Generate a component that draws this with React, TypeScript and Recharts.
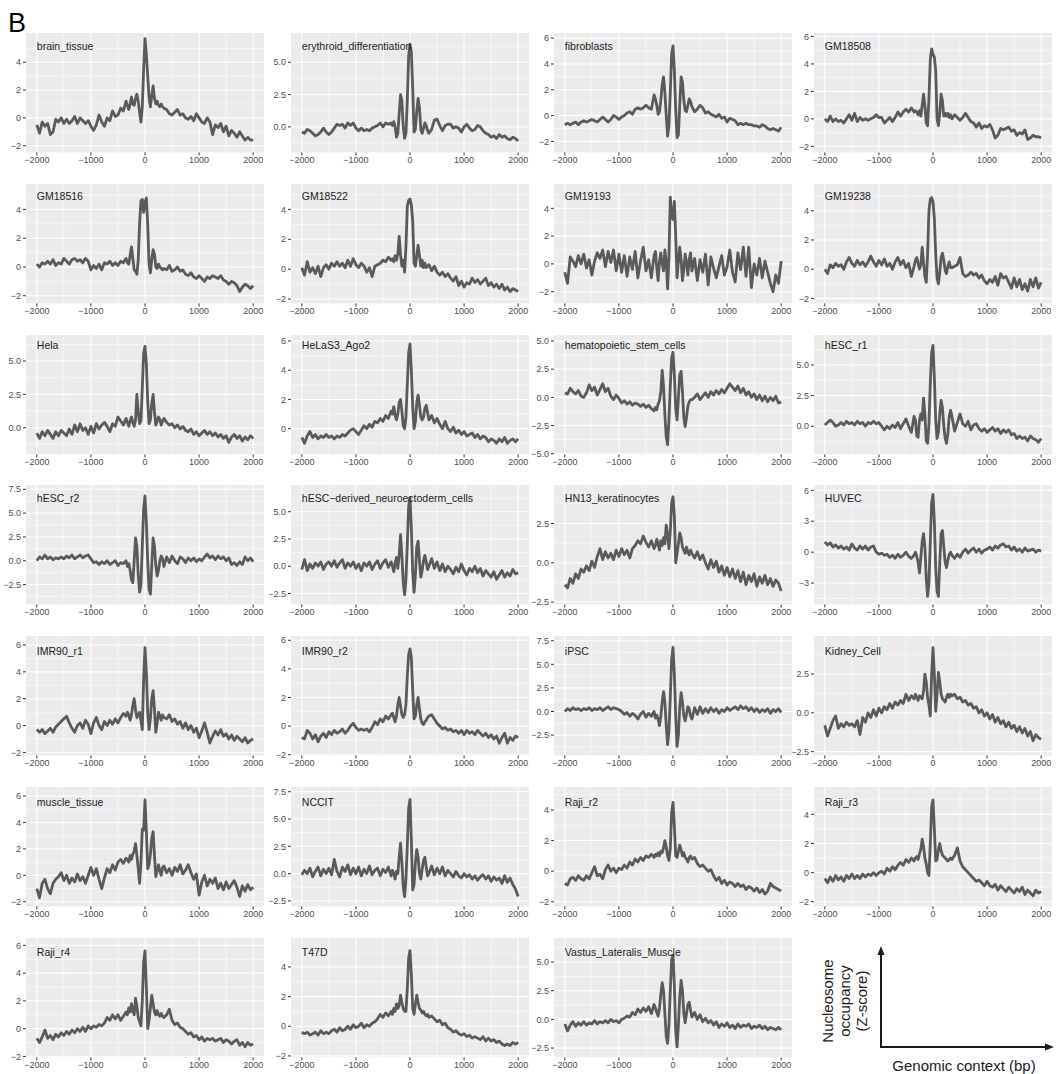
import React from 'react';
import { LineChart, Line, XAxis, YAxis, CartesianGrid } from 'recharts';

// genomic position (bp) of each sample, finer around the TSS
const positions = [
  -2000, -1950, -1900, -1850, -1800, -1750, -1700, -1650, -1600, -1550, -1500, -1450, -1400, -1350, -1300, -1250, -1200,
  -1150, -1100, -1050, -1000, -950, -900, -850, -800, -750, -700, -650, -600, -550, -500, -450, -400, -350,
  -325, -300, -275, -250, -225, -200, -175, -150, -125, -100, -75, -50, -25, 0, 25, 50, 75, 100, 125, 150, 175, 200,
  225, 250, 275, 300, 325,
  350, 400, 450, 500, 550, 600, 650, 700, 750, 800, 850, 900, 950, 1000, 1050, 1100, 1150, 1200, 1250, 1300, 1350,
  1400, 1450, 1500, 1550, 1600, 1650, 1700, 1750, 1800, 1850, 1900, 1950, 2000,
];

const xTicks = [-2000, -1000, 0, 1000, 2000];

const brainTissue = [
  -0.5, -1.1, -0.3, -0.6, -0.4, -1.2, -1.0, -0.1, -0.3, 0.0, -0.4, -0.1, -0.4, -0.2, 0.1, -0.4, 0.0, -0.2, -0.4, -0.2, -0.6, -0.9, -0.5, 0.2, -0.3, -0.6, 0.0, -0.2, 0.5, 0.1, 0.2, 0.7, 0.5, 1.2,
  0.9, 0.6, 1.0, 1.5, 1.0, 0.9, 1.4, 1.7, 1.2, 0.4, -0.3, 0.8, 3.5, 5.7, 4.6, 3.0, 1.5, 0.8, 1.6, 2.3, 1.4, 1.0, 1.2, 0.9, 0.8, 1.0, 0.8,
  0.7, 0.6, 0.3, 0.2, 0.4, 0.6, 0.2, 0.3, 0.0, -0.1, 0.1, -0.2, 0.3, 0.0, -0.3, -0.4, 0.0, -0.3, -1.2, -0.5, -0.7, -0.4, -1.0, -0.6, -1.3, -0.9, -1.1, -1.4, -1.0, -1.3, -1.6, -1.4, -1.6, -1.6,
];
const erythroid = [
  -0.4, -0.5, -0.2, -0.3, -0.5, -0.7, -0.6, -0.4, -0.1, -0.4, -0.6, -0.4, -0.1, 0.2, 0.1, 0.2, -0.1, 0.3, 0.1, 0.3, -0.1, -0.3, -0.1, -0.3, -0.2, -0.3, -0.1, 0.0, 0.1, 0.3, 0.0, 0.3, 0.2, 0.3,
  0.1, 0.4, 0.0, -0.8, -0.5, 1.0, 2.5, 2.0, 0.0, -0.9, -0.5, 2.0, 5.5, 6.4, 5.8, 3.0, -0.4, -0.2, 1.2, 2.2, 1.5, -0.2, -0.5, -0.1, 0.3, 0.1, -0.3,
  -0.5, -0.2, 0.5, 0.6, 0.1, -0.3, 0.1, 0.2, 0.2, -0.1, 0.0, -0.1, -0.4, 0.0, 0.2, -0.1, -0.3, -0.2, 0.1, 0.0, -0.3, -0.5, -0.6, -0.8, -0.7, -0.9, -0.6, -0.8, -0.7, -0.9, -1.0, -0.8, -0.9, -1.1,
];
const fibroblasts = [
  -0.7, -0.6, -0.7, -0.6, -0.5, -0.7, -0.5, -0.4, -0.5, -0.4, -0.3, -0.4, -0.5, -0.3, -0.1, -0.3, -0.5, -0.3, 0.0, -0.1, -0.3, -0.1, 0.0, 0.2, 0.3, 0.1, 0.5, 0.6, 0.5, 0.6, 0.8, 0.6, 0.5, 1.6,
  1.3, 0.8, 0.1, 0.3, 1.2, 2.4, 3.0, 1.8, 0.0, -1.6, -0.8, 1.8, 4.8, 5.4, 3.5, 0.5, -1.7, -1.5, 0.8, 3.0, 2.6, 1.2, 0.4, 0.3, 0.8, 1.3, 1.1,
  0.7, 0.3, 0.5, 0.8, 0.6, 0.2, 0.3, 0.1, 0.0, -0.1, 0.1, -0.2, -0.1, -0.5, -0.2, -0.3, -0.4, -0.7, -0.6, -0.7, -0.6, -0.7, -0.7, -0.8, -0.8, -0.9, -0.7, -0.8, -1.0, -1.1, -1.0, -1.1, -1.2, -0.9,
];
const gm18508 = [
  0.0, -0.2, 0.2, -0.2, 0.0, -0.2, -0.1, -0.3, 0.0, 0.3, -0.1, 0.4, -0.2, 0.1, -0.1, 0.0, -0.1, 0.0, 0.1, 0.3, 0.1, 0.1, -0.3, -0.1, 0.1, -0.2, 0.1, 0.5, 0.2, 0.5, 0.7, 0.5, 0.8, 0.5,
  0.6, 0.5, 0.3, 0.6, 0.2, 1.0, 1.8, 1.0, -0.3, -0.5, 1.5, 4.3, 5.1, 4.7, 4.5, 3.5, 0.0, -0.5, 0.4, 1.8, 1.3, 0.2, 0.4, 0.2, 0.4, 0.1, 0.3,
  0.0, 0.3, 0.1, -0.1, 0.1, 0.4, 0.1, -0.2, -0.3, -0.6, -0.3, -0.7, -0.5, -0.6, -0.4, -0.8, -1.4, -1.2, -0.7, -0.8, -0.7, -0.6, -0.9, -0.8, -1.2, -1.0, -1.1, -0.8, -1.5, -1.4, -1.2, -1.3, -1.3, -1.4,
];
const gm18516 = [
  0.2, 0.0, 0.3, 0.2, 0.4, 0.2, 0.5, 0.1, 0.3, 0.2, 0.6, 0.4, 0.2, 0.5, 0.6, 0.4, 0.5, 0.3, 0.6, 0.4, -0.2, 0.1, -0.1, 0.2, -0.2, 0.3, 0.2, 0.4, 0.1, 0.3, 0.1, 0.4, 0.3, 0.6,
  0.3, 0.2, 0.8, 1.4, 0.6, -0.2, -0.3, -0.5, 0.5, 3.0, 4.6, 4.7, 3.8, 4.5, 4.8, 3.0, 0.2, -0.4, 0.5, 1.2, 0.9, 0.0, -0.1, 0.2, 0.0, -0.1, -0.2,
  -0.1, -0.2, 0.1, -0.3, -0.2, 0.0, -0.3, -0.2, -0.5, -0.6, -0.4, -0.7, -0.8, -0.6, -0.8, -1.0, -0.7, -0.8, -0.6, -0.7, -0.8, -0.6, -0.9, -1.0, -1.2, -1.0, -1.1, -1.3, -1.7, -1.4, -1.2, -1.3, -1.5, -1.3,
];
const gm18522 = [
  0.1, -0.4, 0.5, -0.2, 0.1, -0.3, 0.2, -0.5, 0.1, 0.3, 0.0, 0.4, 0.2, 0.5, 0.2, 0.4, 0.1, 0.6, 0.2, 0.7, 0.3, 0.1, 0.4, 0.2, -0.2, 0.1, -0.5, 0.2, 0.3, 0.4, 0.6, 0.5, 0.8, 0.6,
  0.7, 0.5, 0.9, 0.6, 1.0, 2.2, 1.0, 0.2, 0.6, -0.2, 1.5, 4.2, 4.6, 4.7, 4.3, 3.2, 0.4, 0.2, 0.9, 1.6, 0.9, 0.2, 0.6, 0.1, 0.4, 0.1, 0.2,
  0.3, -0.1, 0.2, -0.2, -0.4, -0.2, -0.5, -0.3, -0.6, -0.8, -0.5, -1.1, -0.8, -1.2, -0.9, -1.0, -0.6, -0.9, -0.7, -1.0, -0.8, -0.6, -1.1, -0.9, -1.2, -1.0, -1.3, -1.0, -1.4, -1.2, -1.5, -1.3, -1.4, -1.5,
];
const gm19193 = [
  -0.6, -1.4, 0.5, 0.2, -0.2, 0.6, 0.0, 0.7, -0.3, 0.3, -0.8, 0.2, 0.8, 0.4, 1.0, -0.2, 0.9, 0.1, 1.0, -0.5, 0.7, -0.6, 0.6, -0.9, 0.5, -0.4, 0.9, -1.0, 0.2, 1.2, -0.5, 0.3, -1.0, 0.6,
  0.9, -0.3, -1.2, 0.2, 0.8, 0.0, -0.5, 1.0, 0.2, -1.8, 0.5, 4.8, 3.5, 3.2, 4.5, 2.0, -1.0, 0.2, 1.2, 0.3, -1.2, -0.4, 0.7, 0.1, -0.8, 0.3, 0.8,
  -0.5, 0.4, -1.2, 0.3, -0.6, 0.7, -1.5, 0.5, -0.3, -1.0, -0.2, 0.6, -0.8, -0.2, 1.0, -0.6, -1.3, 0.8, -0.4, 1.2, -0.9, 1.2, -1.7, 0.0, -0.8, 0.4, -1.0, 0.2, -0.6, -1.4, -2.0, -0.8, -1.4, 0.2,
];
const gm19238 = [
  0.0, -0.3, 0.3, 0.1, 0.4, 0.2, 0.3, 0.0, 0.5, 0.8, 0.4, 0.2, 0.6, 0.3, 0.5, 0.2, 0.5, 0.9, 0.5, 0.2, 0.6, 0.3, 0.7, 0.2, 0.4, 0.0, 0.5, 0.8, 0.3, 0.6, 0.1, 0.4, -0.5, 0.2,
  0.6, 0.8, 0.4, 0.0, 0.3, 1.5, 0.5, -0.5, -0.9, 1.0, 4.0, 4.8, 4.9, 4.6, 3.5, 1.0, -0.6, -1.0, -0.2, 0.8, 1.1, 0.6, -0.1, -0.3, 0.2, 0.5, 0.1,
  0.1, 0.2, 0.3, 0.8, -0.3, -0.5, -0.4, -0.2, -0.4, -0.3, -0.6, -0.4, -0.8, -1.0, -0.7, -0.9, -0.5, -1.1, -0.3, -0.6, -0.5, -0.9, -1.3, -0.6, -1.2, -0.7, -1.4, -1.0, -1.5, -0.7, -1.2, -0.6, -1.3, -0.9,
];
const hela = [
  -0.4, -0.8, -0.3, -0.6, -0.2, -0.5, -0.8, -0.3, -0.6, -0.2, -0.4, -0.6, -0.1, -0.5, 0.2, -0.3, 0.3, -0.2, 0.0, -0.5, 0.1, -0.4, 0.3, -0.1, 0.2, 0.4, 0.1, -0.3, 0.3, 0.1, 0.8, 0.5, 0.2, 0.7,
  0.4, 0.1, 0.5, 0.8, 0.4, 0.1, 0.6, 2.5, 1.2, 0.3, 0.5, 3.0, 5.6, 6.1, 4.8, 2.0, 0.3, 0.6, 1.8, 2.5, 1.2, 0.2, 0.5, 0.8, 0.6, 0.2, 0.5,
  0.7, 0.4, 0.2, 0.3, 0.0, 0.2, -0.1, 0.1, -0.2, -0.3, -0.1, -0.5, -0.3, -0.6, -0.4, -0.2, -0.5, -0.3, -0.6, -0.4, -0.7, -0.5, -0.8, -0.6, -1.1, -0.7, -0.5, -0.8, -0.6, -1.0, -0.7, -0.9, -0.6, -0.8,
];
const helaS3Ago2 = [
  -0.6, -1.0, -0.5, -0.2, -0.6, -0.4, -0.7, -0.5, -0.6, -0.4, -0.6, -0.5, -0.7, -0.5, -0.6, -0.4, -0.5, -0.3, -0.1, 0.0, -0.2, -0.4, -0.1, 0.2, 0.0, 0.3, 0.1, 0.5, 0.4, 0.7, 0.5, 0.9, 0.7, 1.2,
  1.0, 1.5, 0.9, 0.6, 1.0, 1.8, 2.0, 1.2, 0.2, 0.0, 0.8, 3.0, 5.2, 5.8, 4.0, 1.5, 0.0, 0.5, 1.8, 2.3, 1.6, 0.8, 0.6, 0.8, 1.4, 1.6, 1.1,
  0.6, 0.9, 0.4, 0.7, 0.3, 0.0, 0.5, 0.0, -0.2, 0.1, -0.3, -0.1, -0.4, -0.2, -0.5, -0.4, -0.3, -0.6, -0.4, -0.7, -0.5, -0.6, -0.9, -0.7, -0.8, -1.0, -0.7, -0.9, -0.6, -1.0, -0.8, -0.7, -0.9, -0.7,
];
const hematopoietic = [
  0.4, 0.3, 0.8, 0.5, 0.3, 0.6, 0.1, 0.0, 0.4, 1.1, 0.6, 0.9, 0.2, 0.7, 1.2, 0.5, 0.8, 0.1, -0.2, 0.2, -0.1, -0.5, -0.3, -0.6, -0.4, -0.7, -0.5, -0.6, -0.8, -0.6, -0.9, -0.7, -1.0, -1.2,
  -0.9, -1.1, -0.6, -0.3, 0.5, 2.4, 1.0, -1.5, -3.5, -4.2, -2.0, 1.0, 3.5, 4.0, 2.0, -1.0, -2.0, 0.0, 2.0, 2.3, 0.5, -1.8, -2.6, -1.8, -0.8, -0.4, -0.2,
  -0.2, 0.0, 0.3, -0.2, 0.1, 0.4, 0.0, 0.5, 0.2, 0.6, 0.3, 0.7, 0.4, 0.8, 1.2, 0.9, 0.6, 1.0, 0.4, 0.8, 0.2, 0.5, 0.0, 0.3, -0.2, 0.2, -0.3, 0.1, -0.4, 0.0, -0.3, 0.1, -0.5, -0.4,
];
const hescR1 = [
  0.1, 0.3, 0.5, 0.3, 0.0, 0.1, 0.3, 0.1, 0.4, 0.2, 0.3, 0.1, 0.4, 0.2, 0.3, 0.0, 0.3, 0.2, 0.4, 0.2, 0.3, 0.0, -0.3, 0.0, -0.2, 0.1, -0.1, 0.3, -0.2, 0.2, 0.6, 0.0, -0.5, 0.8,
  0.5, -0.8, -0.9, 0.5, 1.0, 0.5, 2.3, 1.0, -1.2, -1.4, 0.2, 3.5, 6.0, 6.6, 4.0, 0.5, -1.0, -0.5, 1.0, 2.1, 1.5, 0.0, -1.0, -1.4, -0.6, 0.8, 1.3,
  0.8, -0.4, 0.3, 1.0, 0.2, 0.0, 0.4, -0.3, 0.1, 0.2, -0.2, -0.4, -0.2, -0.5, -0.3, -0.1, -0.4, -0.2, -0.6, -0.3, -0.5, -0.3, -0.7, -0.6, -1.0, -0.8, -1.0, -0.9, -1.2, -0.8, -1.0, -1.1, -1.3, -1.0,
];
const hescR2 = [
  0.0, 0.4, 0.2, 0.6, 0.2, 0.4, 0.1, 0.3, 0.2, 0.4, 0.2, 0.5, 0.3, 0.6, 0.2, 0.4, 0.6, 0.3, 0.5, 0.6, 0.2, -0.2, -0.1, -0.4, -0.1, -0.3, 0.0, -0.4, -0.2, 0.0, -0.5, -0.2, -0.3, 0.0,
  -0.6, -0.3, -1.0, -2.0, -2.3, 0.0, 2.4, 1.5, -1.5, -3.3, -2.5, 1.5, 5.5, 6.8, 4.0, 0.0, -3.0, -3.5, -0.5, 2.4, 1.5, -0.5, -1.6, -1.0, 0.0, 0.5, 0.2,
  -0.6, 0.4, -0.2, 0.5, 0.0, -0.3, 0.4, 0.2, -0.2, 0.3, 0.0, 0.3, -0.1, 0.2, 0.0, 0.4, 0.7, 0.3, 0.5, 0.1, 0.5, 0.2, 0.4, 0.0, 0.3, -0.4, -0.2, -0.5, -0.1, -0.4, 0.4, 0.0, 0.3, -0.1,
];
const hescNeuro = [
  -0.3, 0.6, -0.4, 0.2, -0.2, 0.3, 0.0, 0.4, -0.3, 0.2, 0.4, 0.0, 0.5, -0.1, 0.3, 0.6, -0.2, 0.3, 0.0, 0.4, -0.2, 0.2, -0.4, 0.3, 0.0, 0.4, -0.3, 0.2, 0.5, -0.2, 0.3, 0.6, -0.1, 0.4,
  0.0, -0.5, 0.3, 0.8, -0.2, 1.0, 2.9, 1.0, -1.5, -2.6, -1.2, 2.0, 5.5, 6.3, 3.5, -0.5, -2.4, -0.8, 1.8, 2.3, 0.5, -1.0, -0.4, 0.5, 1.0, 0.4, -0.3,
  0.0, 0.7, -0.2, 0.4, -0.4, 0.2, -0.5, 0.0, -0.3, -0.7, -0.1, -0.5, 0.2, -0.4, -0.8, -0.2, -0.5, 0.0, -0.6, -0.2, -0.9, -0.4, -0.7, -1.0, -0.5, -1.2, -0.8, -0.4, -1.0, -0.6, -0.9, -0.3, -0.7, -0.6,
];
const hn13 = [
  -1.4, -1.6, -1.0, -1.3, -0.7, -1.0, -0.4, -0.6, -0.2, -0.5, 0.1, -0.3, 0.4, 0.9, 0.2, 0.7, 0.3, 0.6, 0.2, 0.8, 0.4, 0.9, 0.5, 0.8, 0.3, 0.9, 1.1, 1.4, 1.2, 1.7, 1.3, 1.0, 1.4, 0.9,
  1.1, 1.5, 1.2, 0.8, 1.4, 1.1, 1.6, 1.2, 2.4, 1.8, 0.9, 2.0, 3.8, 4.2, 3.0, 0.0, 0.6, 1.2, 1.9, 1.6, 1.0, 0.8, 0.6, 1.0, 0.7, 0.5, 0.8,
  0.6, 0.3, 0.7, 0.2, 0.5, 0.0, -0.4, 0.2, -0.3, 0.1, -0.6, -0.2, -0.8, -0.3, -0.9, -0.4, -1.0, -0.5, -1.2, -0.6, -1.4, -0.8, -1.2, -0.7, -1.5, -0.9, -1.3, -0.8, -1.4, -1.0, -1.5, -1.1, -1.3, -1.8,
];
const huvec = [
  1.0, 0.7, 0.9, 0.5, 0.7, 0.4, 0.6, 0.3, 0.5, 0.2, 0.8, 0.4, 0.2, 0.6, 0.3, 0.6, 0.2, 0.5, 0.6, 0.0, -0.2, -0.1, -0.3, -0.2, -0.5, -0.3, -0.6, -0.2, -0.5, -0.3, 0.0, -0.4, -0.6, -0.3,
  0.0, -0.4, -1.0, -2.0, -0.5, 1.0, 1.8, 0.5, -2.5, -4.3, -3.0, 1.0, 4.8, 5.6, 3.0, -1.5, -3.8, -4.3, -1.0, 1.8, 2.1, 0.5, -1.0, -1.5, -0.8, -0.2, 0.0,
  -0.3, -0.6, -0.2, -0.5, 0.0, 0.3, -0.1, 0.2, 0.4, 0.0, 0.3, -0.1, 0.2, 0.3, 0.5, 0.2, 0.6, 0.4, 0.7, 0.8, 0.5, 0.6, 0.2, 0.5, 0.1, 0.3, 0.0, 0.4, 0.1, 0.2, 0.3, 0.0, 0.2, 0.1,
];
const imr90R1 = [
  -0.3, -0.5, -0.3, -0.6, -0.4, -0.2, -0.5, -0.1, 0.1, 0.3, 0.5, 0.7, 0.2, -0.2, -0.5, 0.0, 0.2, -0.2, 0.4, 0.1, -0.6, 0.2, 0.6, 0.0, -0.3, 0.3, 0.0, 0.4, 0.1, 0.5, 0.2, 0.6, 0.9, 0.7,
  1.0, 0.8, 0.4, 0.8, 1.5, 2.0, 1.2, 0.6, 0.8, 1.0, 0.4, -0.3, 3.5, 5.8, 4.0, 1.0, -0.3, 0.5, 2.0, 2.6, 1.2, -0.5, 0.2, 1.0, 0.7, 0.4, 0.8,
  0.6, 0.5, 0.8, 0.3, 0.5, 0.1, 0.3, -0.2, 0.2, -0.3, 0.0, -0.5, -0.2, -0.9, -0.4, 0.2, -0.5, -1.3, -0.8, -0.4, -0.7, -0.3, -0.8, -0.6, -1.0, -0.7, -1.1, -0.8, -1.0, -1.2, -0.9, -1.3, -1.1, -1.0,
];
const imr90R2 = [
  -0.8, -0.9, -0.3, -0.5, -0.9, -0.6, -1.1, -0.7, -0.5, -0.8, -0.4, -0.6, -0.3, -0.5, -0.4, -0.2, -0.5, -0.3, 0.0, 0.2, -0.1, -0.3, -0.2, -0.3, -0.2, -0.4, -0.1, 0.3, 0.1, 0.5, 0.3, 0.7, 0.5, 0.8,
  0.9, 0.6, 0.3, 0.7, 1.5, 2.0, 1.4, 0.8, 0.6, 0.8, 1.5, 3.5, 5.0, 5.4, 4.8, 2.5, 0.5, 0.7, 1.5, 2.0, 1.2, 0.5, 0.2, 0.1, 0.3, 0.4, 0.6,
  0.7, 0.8, 0.5, 0.2, 0.0, -0.2, -0.1, -0.3, -0.2, -0.4, -0.3, -0.5, -0.3, -0.6, -0.3, -0.5, -0.4, -0.6, -0.3, -0.5, -0.7, -0.5, -0.8, -0.6, -0.9, -0.7, -1.2, -0.8, -0.5, -1.2, -0.8, -1.0, -0.7, -0.8,
];
const ipsc = [
  0.0, 0.3, 0.1, 0.4, 0.2, 0.3, 0.1, 0.3, 0.2, 0.4, 0.1, 0.3, 0.2, 0.4, 0.1, 0.3, 0.5, 0.2, 0.4, 0.3, 0.2, 0.0, -0.3, -0.1, -0.5, -0.2, -0.4, -0.8, -0.3, 0.0, -0.6, -0.2, -0.5, 0.0,
  -0.7, -0.4, -0.8, -1.5, -0.5, 1.0, 2.1, 1.0, -1.5, -3.5, -2.0, 1.5, 5.5, 6.8, 4.0, -0.5, -3.7, -2.5, 0.5, 2.0, 1.0, -0.5, -1.0, -0.3, 0.5, 0.3, -0.5,
  -0.8, 0.4, -0.3, 0.5, -0.2, 0.3, -0.1, 0.4, 0.0, 0.3, -0.2, 0.2, 0.0, 0.4, 0.1, 0.3, 0.5, 0.2, 0.6, 0.3, 0.5, 0.1, 0.4, 0.0, 0.3, -0.1, 0.2, 0.0, 0.3, -0.2, 0.2, 0.0, 0.3, -0.1,
];
const kidneyCell = [
  -0.8, -1.5, -1.0, -0.5, -0.2, -1.0, -0.7, -0.9, -0.6, -0.8, -0.7, -0.9, -0.5, -1.4, -0.3, -0.6, 0.0, -0.3, 0.2, -0.2, 0.3, 0.0, 0.4, 0.2, 0.6, 0.3, 0.7, 0.5, 0.8, 0.6, 1.2, 0.8, 1.1, 0.9,
  1.2, 1.0, 0.8, 1.1, 1.0, 0.9, 1.4, 2.5, 2.0, 1.0, 0.5, -0.2, 2.5, 4.2, 2.5, 0.1, 1.2, 2.6, 2.0, 1.2, 0.9, 0.8, 0.7, 1.0, 1.2, 1.0, 1.2,
  1.1, 1.2, 0.9, 1.0, 0.7, 0.8, 0.5, 0.6, 0.3, 0.4, 0.0, 0.2, -0.2, 0.0, -0.4, -0.1, -0.6, -0.3, -0.7, -0.5, -0.9, -0.6, -1.0, -0.8, -1.2, -0.9, -1.3, -1.0, -1.5, -1.2, -1.8, -1.4, -1.6, -1.7,
];
const muscleTissue = [
  -1.0, -1.7, -0.6, -0.3, -1.0, -1.4, -0.6, -0.3, -0.1, 0.2, -0.4, 0.0, -0.6, -0.2, -0.5, 0.1, -0.4, -0.1, -0.6, 0.0, 0.6, 0.0, 0.5, -0.3, -1.0, -0.2, 0.5, 0.2, 0.8, 0.4, 1.0, 1.2, 0.9, 1.3,
  1.2, 1.0, 1.5, 1.2, 1.6, 1.8, 2.4, 1.5, 0.5, -0.6, 1.0, 3.5, 3.4, 5.7, 3.4, 0.5, 0.8, 1.6, 2.8, 3.3, 1.5, -0.1, 0.4, 0.8, 0.3, 0.0, 0.6,
  0.7, 0.2, 0.5, 0.0, 0.6, 0.3, 0.8, 0.1, 0.4, 0.8, 0.2, -0.3, 0.1, -1.5, -0.5, 0.0, -0.8, -0.3, -0.6, -0.2, -1.0, -0.6, -1.1, -0.5, -1.0, -0.7, -0.4, -0.9, -1.6, -0.8, -1.2, -0.7, -1.1, -0.9,
];
const nccit = [
  -0.1, 0.3, 0.0, 0.5, -0.3, 0.2, 0.6, -0.2, 0.4, 0.0, 0.5, -0.1, 1.3, 0.2, -0.3, 0.6, 0.2, 0.8, -0.1, 0.5, 0.0, 0.6, -0.2, 0.4, 0.0, 0.7, -0.1, 0.3, 0.5, -0.2, 0.4, 0.1, 0.6, -0.2,
  0.3, 0.0, -0.5, 0.2, 0.0, 1.5, 2.8, 1.0, -1.2, -2.1, -0.5, 2.5, 6.0, 6.8, 3.0, -1.5, -1.0, 1.0, 2.2, 1.5, 0.0, -0.5, 0.4, 1.2, 1.5, 0.6, -0.2,
  0.0, 0.7, -0.1, 0.5, 0.0, 0.6, -0.2, 0.3, 0.0, -0.3, 0.2, -0.2, -0.4, 0.0, -0.3, -0.1, -0.5, -0.2, -0.6, -0.3, -0.1, -0.5, -0.2, -0.7, -0.3, -0.6, -0.4, -0.9, -0.2, -0.8, -0.4, -1.0, -1.4, -2.1,
];
const rajiR2 = [
  -0.8, -0.9, -0.5, -0.4, -0.6, -0.3, -0.5, -0.6, -0.3, -0.5, -0.1, 0.3, -0.3, -0.2, -0.5, 0.1, 0.4, 0.0, 0.2, -0.1, 0.2, 0.1, 0.4, 0.2, 0.6, 0.4, 0.8, 0.6, 0.9, 0.7, 1.0, 0.9, 1.1, 0.9,
  1.1, 1.0, 1.2, 1.0, 1.3, 1.2, 1.5, 2.0, 1.6, 1.0, 0.7, 1.5, 3.8, 4.5, 3.0, 1.0, 0.9, 1.3, 1.7, 1.4, 1.0, 1.2, 0.9, 0.8, 0.6, 0.9, 1.0,
  0.8, 0.9, 0.5, 0.3, 0.4, 0.2, 0.0, 0.1, -0.3, -0.6, -0.4, -0.8, -0.6, -0.9, -0.7, -0.8, -1.0, -0.8, -1.0, -0.9, -1.2, -1.0, -1.1, -1.3, -1.1, -1.4, -1.2, -1.5, -1.3, -0.8, -1.0, -1.1, -1.2, -1.3,
];
const rajiR3 = [
  -0.4, -0.7, -0.3, -0.6, -0.2, -0.5, -0.3, -0.6, -0.2, -0.4, -0.1, -0.4, -0.2, -0.4, -0.1, -0.3, -0.1, -0.2, 0.0, -0.2, 0.0, 0.1, -0.1, 0.3, 0.1, 0.4, 0.2, 0.5, 0.7, 0.5, 0.9, 0.7, 1.0, 0.8,
  1.0, 1.1, 0.9, 1.3, 1.6, 2.3, 1.8, 1.0, 0.6, 0.0, -0.2, 2.0, 4.5, 5.0, 3.0, 0.8, 0.9, 1.6, 2.0, 1.5, 1.2, 1.1, 1.0, 0.9, 0.8, 0.9, 1.0,
  0.9, 1.2, 1.7, 0.8, 0.4, 0.2, 0.0, -0.2, -0.4, -0.6, -0.5, -0.7, -0.9, -0.6, -0.9, -1.0, -0.8, -1.2, -0.9, -1.1, -1.3, -1.0, -1.2, -1.4, -1.1, -1.3, -1.0, -1.5, -1.2, -1.4, -1.6, -1.2, -1.4, -1.3,
];
const rajiR4 = [
  -0.7, -1.0, -0.6, -0.1, -0.7, -0.5, -0.8, -0.4, -0.6, -0.3, -0.5, -0.2, -0.4, -0.1, -0.3, 0.0, -0.2, 0.1, -0.2, 0.2, 0.0, 0.2, 0.1, 0.3, 0.2, 0.4, 0.8, 0.6, 1.0, 0.7, 1.0, 0.6, 0.9, 1.2,
  1.0, 1.5, 1.2, 1.8, 1.3, 1.0, 2.2, 1.6, 0.8, 0.5, 0.2, 2.0, 4.8, 5.6, 3.0, 0.0, 0.6, 1.5, 2.4, 1.8, 1.2, 1.0, 1.3, 1.0, 0.9, 1.1, 0.9,
  0.8, 1.0, 1.4, 0.6, 0.3, 0.4, 0.1, 0.0, -0.2, -0.4, -0.3, -0.6, -0.5, -0.8, -0.6, -0.9, -0.7, -0.8, -0.7, -0.9, -0.8, -0.7, -1.0, -0.8, -0.9, -1.1, -0.9, -0.8, -1.2, -1.0, -1.3, -1.0, -1.2, -1.1,
];
const t47d = [
  -0.4, -0.5, -0.4, -0.6, -0.5, -0.4, -0.6, -0.3, -0.5, -0.4, -0.5, -0.3, -0.2, -0.4, -0.1, -0.3, -0.2, 0.0, -0.2, 0.1, -0.1, 0.0, 0.2, -0.1, 0.1, 0.0, 0.2, 0.3, 0.5, 0.8, 0.6, 0.9, 0.7, 1.0,
  0.8, 1.2, 1.0, 1.5, 1.2, 1.4, 2.1, 1.6, 1.2, 1.0, 1.0, 2.5, 4.6, 5.1, 3.5, 1.2, 0.8, 1.5, 2.1, 1.6, 1.2, 1.1, 0.9, 1.0, 0.8, 0.7, 0.8,
  0.6, 0.7, 0.5, 0.3, 0.4, 0.1, 0.2, -0.1, -0.2, -0.4, -0.3, -0.5, -0.6, -0.5, -0.7, -0.6, -0.8, -0.7, -0.8, -0.9, -0.7, -1.0, -0.8, -1.0, -0.9, -1.1, -1.0, -1.2, -1.3, -1.2, -1.3, -1.1, -1.2, -1.1,
];
const vastusLateralis = [
  -0.4, -1.0, -0.5, -0.2, -0.6, -0.3, -0.5, -0.2, -0.5, -0.3, -0.4, -0.1, -0.4, -0.2, -0.3, -0.1, -0.3, 0.0, -0.2, -0.1, -0.3, 0.0, 0.1, 0.3, 0.2, 0.6, 0.4, 0.9, 0.6, 1.0, 0.7, 1.1, 0.5, 1.3,
  1.0, 0.6, 0.3, 1.0, 2.2, 3.2, 2.5, 0.5, -1.5, -2.1, -0.5, 2.5, 5.2, 5.6, 3.0, -1.0, -2.4, -0.5, 2.0, 3.4, 2.5, 0.5, -0.3, 0.5, 1.3, 1.5, 0.8,
  0.2, 0.6, 0.0, 0.4, -0.2, 0.1, -0.3, -0.1, -0.5, -0.2, -0.7, -0.4, -0.6, -0.3, -0.7, -0.5, -0.8, -0.4, -0.7, -0.5, -0.6, -0.4, -0.8, -0.6, -0.7, -0.5, -0.8, -0.6, -0.9, -0.7, -0.8, -0.9, -0.7, -0.9,
];

// one entry per facet, in reading order
const panels = [
  { name: 'brain_tissue', values: brainTissue, ticks: [-2, 0, 2, 4], dec: 0, domain: [-2.48, 6.1] },
  { name: 'erythroid_differentiation', values: erythroid, ticks: [0, 2.5, 5], dec: 1, domain: [-1.98, 7.27] },
  { name: 'fibroblasts', values: fibroblasts, ticks: [-2, 0, 2, 4, 6], dec: 0, domain: [-2.85, 6.4] },
  { name: 'GM18508', values: gm18508, ticks: [-2, 0, 2, 4, 6], dec: 0, domain: [-2.44, 6.25] },
  { name: 'GM18516', values: gm18516, ticks: [-2, 0, 2, 4], dec: 0, domain: [-2.53, 5.77] },
  { name: 'GM18522', values: gm18522, ticks: [-2, 0, 2, 4], dec: 0, domain: [-2.29, 5.7] },
  { name: 'GM19193', values: gm19193, ticks: [-2, 0, 2, 4], dec: 0, domain: [-2.84, 5.75] },
  { name: 'GM19238', values: gm19238, ticks: [-2, 0, 2, 4], dec: 0, domain: [-2.34, 5.83] },
  { name: 'Hela', values: hela, ticks: [0, 2.5, 5], dec: 1, domain: [-2.0, 6.95] },
  { name: 'HeLaS3_Ago2', values: helaS3Ago2, ticks: [0, 2, 4, 6], dec: 0, domain: [-1.76, 6.41] },
  { name: 'hematopoietic_stem_cells', values: hematopoietic, ticks: [-5, -2.5, 0, 2.5, 5], dec: 1, domain: [-5.06, 5.53] },
  { name: 'hESC_r1', values: hescR1, ticks: [0, 2.5, 5], dec: 1, domain: [-2.3, 7.45] },
  { name: 'hESC_r2', values: hescR2, ticks: [-2.5, 0, 2.5, 5, 7.5], dec: 1, domain: [-4.58, 7.95] },
  { name: 'hESC\u2212derived_neuroectoderm_cells', values: hescNeuro, ticks: [-2.5, 0, 2.5, 5], dec: 1, domain: [-3.5, 7.45] },
  { name: 'HN13_keratinocytes', values: hn13, ticks: [-2.5, 0, 2.5], dec: 1, domain: [-2.65, 4.95] },
  { name: 'HUVEC', values: huvec, ticks: [-3, 0, 3, 6], dec: 0, domain: [-5.07, 6.52] },
  { name: 'IMR90_r1', values: imr90R1, ticks: [-2, 0, 2, 4, 6], dec: 0, domain: [-2.22, 6.67] },
  { name: 'IMR90_r2', values: imr90R2, ticks: [-2, 0, 2, 4, 6], dec: 0, domain: [-2.05, 6.3] },
  { name: 'iPSC', values: ipsc, ticks: [-2.5, 0, 2.5, 5, 7.5], dec: 1, domain: [-4.65, 8.0] },
  { name: 'Kidney_Cell', values: kidneyCell, ticks: [-2.5, 0, 2.5], dec: 1, domain: [-2.74, 4.95] },
  { name: 'muscle_tissue', values: muscleTissue, ticks: [-2, 0, 2, 4, 6], dec: 0, domain: [-2.35, 6.68] },
  { name: 'NCCIT', values: nccit, ticks: [-2.5, 0, 2.5, 5, 7.5], dec: 1, domain: [-3.0, 7.93] },
  { name: 'Raji_r2', values: rajiR2, ticks: [-2, 0, 2, 4], dec: 0, domain: [-2.3, 5.5] },
  { name: 'Raji_r3', values: rajiR3, ticks: [-2, 0, 2, 4], dec: 0, domain: [-2.32, 5.88] },
  { name: 'Raji_r4', values: rajiR4, ticks: [-2, 0, 2, 4, 6], dec: 0, domain: [-2.07, 6.53] },
  { name: 'T47D', values: t47d, ticks: [-2, 0, 2, 4], dec: 0, domain: [-2.1, 5.95] },
  { name: 'Vastus_Lateralis_Muscle', values: vastusLateralis, ticks: [-2.5, 0, 2.5, 5], dec: 1, domain: [-3.31, 7.09] },
];

// layout (px)
const COL_LEFT = [26, 291, 554, 814];
const ROW_TOP = [33.3, 184, 334.7, 485.4, 636.1, 786.8, 937.5];
const LABEL_DY = [13.4, 12.7, 10.5, 13.5, 15.5, 15.5, 14.5];
const PANEL_W = 238;
const PANEL_H = 119.4;
const Y_AXIS_W = 26;
const X_AXIS_H = 16;

const FONT = '"Liberation Sans", Arial, Helvetica, sans-serif';
const LINE_COLOR = '#5A5A5A';

const fmt = (dec: number) => (v: number) => {
  const s = Math.abs(v).toFixed(dec);
  return v < 0 ? '\u2212' + s : s;
};

function minorBreaks(ticks: number[], domain: number[]) {
  const step = ticks[1] - ticks[0];
  const out: number[] = [];
  for (let v = ticks[0] - step / 2; v <= domain[1]; v += step) {
    if (v >= domain[0]) out.push(v);
  }
  return out;
}

const tickStyle = { fontSize: 9, fill: '#4D4D4D', fontFamily: FONT };

function Facet({ panel, col, row }: { panel: (typeof panels)[number]; col: number; row: number }) {
  const data = positions.map((x, i) => ({ x, y: panel.values[i] }));
  const left = COL_LEFT[col];
  const top = ROW_TOP[row];

  return (
    <>
      <div style={{ position: 'absolute', left: left - Y_AXIS_W, top }}>
        <LineChart
          width={Y_AXIS_W + PANEL_W}
          height={PANEL_H + X_AXIS_H}
          data={data}
          margin={{ top: 0, right: 0, bottom: 0, left: 0 }}
        >
          <CartesianGrid
            fill="#EBEBEB"
            fillOpacity={1}
            stroke="#FFFFFF"
            strokeWidth={0.55}
            horizontalValues={minorBreaks(panel.ticks, panel.domain)}
            verticalValues={[-1500, -500, 500, 1500]}
          />
          <CartesianGrid
            stroke="#FFFFFF"
            strokeWidth={1.1}
            horizontalValues={panel.ticks}
            verticalValues={xTicks}
          />
          <XAxis
            dataKey="x"
            type="number"
            domain={[-2200, 2200]}
            ticks={xTicks}
            allowDataOverflow
            interval={0}
            height={X_AXIS_H}
            axisLine={false}
            tickSize={3}
            tickMargin={1}
            tickLine={{ stroke: '#333333', strokeWidth: 1 }}
            tick={tickStyle}
            tickFormatter={fmt(0)}
          />
          <YAxis
            type="number"
            domain={panel.domain}
            ticks={panel.ticks}
            allowDataOverflow
            interval={0}
            width={Y_AXIS_W}
            axisLine={false}
            tickSize={3}
            tickMargin={2}
            tickLine={{ stroke: '#333333', strokeWidth: 1 }}
            tick={tickStyle}
            tickFormatter={fmt(panel.dec)}
          />
          <Line
            dataKey="y"
            type="linear"
            stroke={LINE_COLOR}
            strokeWidth={2.8}
            strokeLinejoin="round"
            dot={false}
            activeDot={false}
            isAnimationActive={false}
          />
        </LineChart>
      </div>
      <div
        style={{
          position: 'absolute',
          left: left + (PANEL_W * 200) / 4400,
          top: top + LABEL_DY[row] - 5.5,
          fontFamily: FONT,
          fontSize: 10.5,
          lineHeight: '11px',
          color: '#1A1A1A',
          whiteSpace: 'nowrap',
        }}
      >
        {panel.name}
      </div>
    </>
  );
}

function AxisKey() {
  const ink = '#1A1A1A';
  return (
    <svg style={{ position: 'absolute', left: 0, top: 0 }} width={1057} height={1074}>
      <line x1={881} y1={1047} x2={881} y2={954} stroke={ink} strokeWidth={2} />
      <polygon points="881,946 877.5,955 884.5,955" fill={ink} />
      <line x1={880} y1={1047} x2={1046} y2={1047} stroke={ink} strokeWidth={2} />
      <polygon points="1054,1047 1045,1043.5 1045,1050.5" fill={ink} />
      {[
        { t: 'Nucleosome', x: 833 },
        { t: 'occupancy', x: 850 },
        { t: '(Z-score)', x: 867 },
      ].map((l) => (
        <text
          key={l.t}
          x={l.x}
          y={1001}
          transform={`rotate(-90, ${l.x}, 1001)`}
          textAnchor="middle"
          fontFamily={FONT}
          fontSize={15}
          fill={ink}
        >
          {l.t}
        </text>
      ))}
      <text x={964} y={1071} textAnchor="middle" fontFamily={FONT} fontSize={15} fill={ink}>
        Genomic context (bp)
      </text>
      <text x={8} y={31.7} fontFamily={FONT} fontSize={27} fill="#000000">
        B
      </text>
    </svg>
  );
}

export default function App() {
  return (
    <div style={{ position: 'relative', width: 1057, height: 1074, background: '#FFFFFF', overflow: 'hidden' }}>
      <style>{'body{margin:0;}'}</style>
      <AxisKey />
      {panels.map((p, i) => (
        <Facet key={p.name} panel={p} col={i % 4} row={Math.floor(i / 4)} />
      ))}
    </div>
  );
}
